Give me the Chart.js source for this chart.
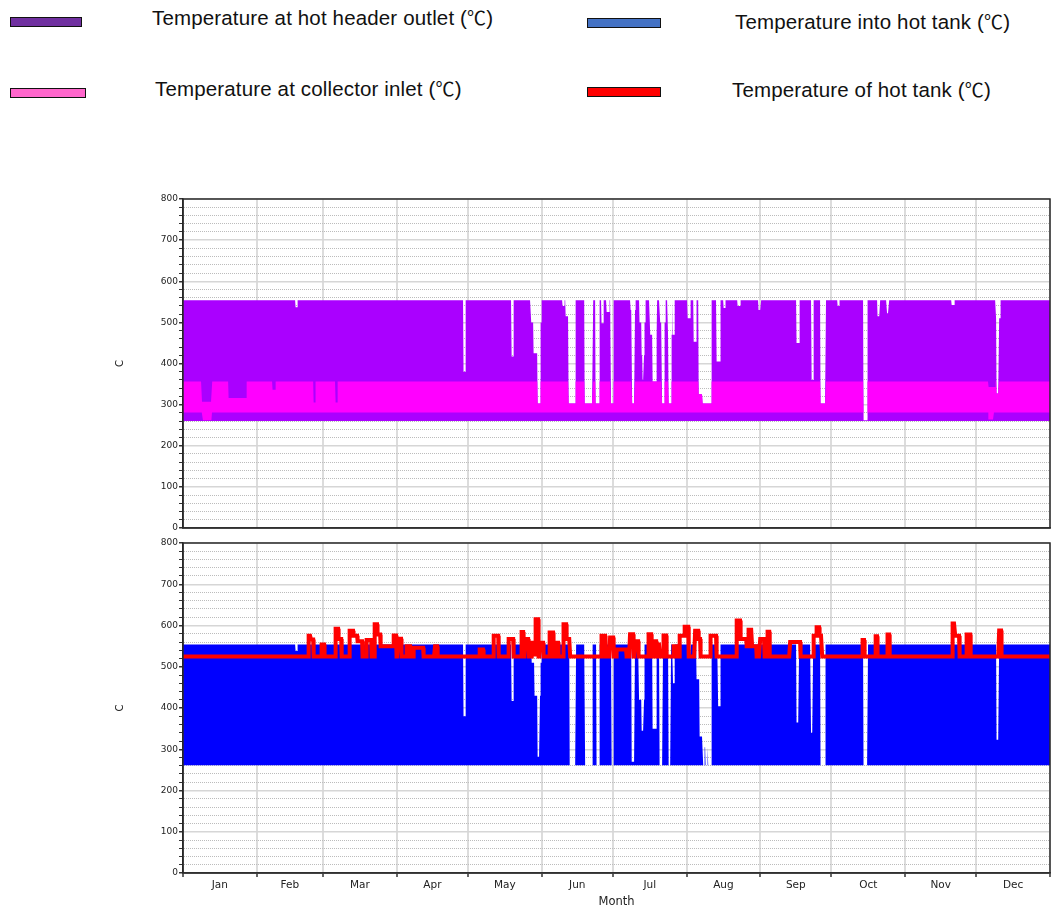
<!DOCTYPE html>
<html>
<head>
<meta charset="utf-8">
<script src="https://cdn.jsdelivr.net/npm/chart.js@4.4.1/dist/chart.umd.min.js"></script>
<style>
  html, body { margin: 0; padding: 0; background: #fff; }
  #page { position: relative; width: 1052px; height: 910px; overflow: hidden; font-family: "Liberation Sans", Arial, sans-serif; }
  .swatch { position: absolute; height: 8px; border: 1.5px solid #111; }
  .label { position: absolute; font-size: 20.5px; line-height: 20px; letter-spacing: 0.15px; color: #111; white-space: nowrap; }
  .deg { font-family: "Noto Sans CJK SC", "Noto Sans", sans-serif; font-size: 19px; }
  .panel { position: absolute; left: 0; width: 1052px; }
</style>
</head>
<body>
<div id="page">
  <div class="swatch" style="left:10px;top:17px;width:70px;background:#7030A0"></div>
  <span class="label" style="left:152px;top:7px">Temperature at hot header outlet (<span class="deg">℃</span>)</span>
  <div class="swatch" style="left:10px;top:88px;width:74px;background:#FF66CC"></div>
  <span class="label" style="left:155px;top:78px">Temperature at collector inlet (<span class="deg">℃</span>)</span>
  <div class="swatch" style="left:587px;top:18px;width:72px;background:#4472C4"></div>
  <span class="label" style="left:735px;top:11px">Temperature into hot tank (<span class="deg">℃</span>)</span>
  <div class="swatch" style="left:587px;top:87px;width:72px;background:#FF0000"></div>
  <span class="label" style="left:732px;top:79px">Temperature of hot tank (<span class="deg">℃</span>)</span>

  <div class="panel" style="top:185px;height:350px"><canvas id="topPanel"></canvas></div>
  <div class="panel" style="top:535px;height:375px"><canvas id="bottomPanel"></canvas></div>
</div>
<script>
// x is day of year (0..365), y is temperature
const monthNames = ["Jan", "Feb", "Mar", "Apr", "May", "Jun", "Jul", "Aug", "Sep", "Oct", "Nov", "Dec"];
const monthStarts = [0, 31, 59, 90, 120, 151, 181, 212, 243, 273, 304, 334, 365];

// hot header outlet: daily swing between the floor and the top, with dips [fromDay, toDay, lowest top]
const outletTop = 554;
const outletFloor = 260;
const outletDips = [
  [47.4, 48.0, 537], [118.2, 119.0, 380], [138.4, 139.0, 417],
  [146.6, 151.0, 500], [147.6, 150.4, 425], [149.3, 150.4, 303],
  [159.8, 160.4, 540], [161.0, 162.5, 515], [162.4, 165.2, 303],
  [169.1, 172.6, 303], [173.8, 175.4, 303], [176.1, 177.0, 498],
  [178.2, 179.5, 525], [180.2, 181.2, 303],
  [188.3, 190.4, 530], [189.1, 190.2, 303],
  [192.1, 194.6, 500], [193.0, 194.3, 420], [193.4, 194.0, 360],
  [196.7, 199.5, 470], [197.8, 199.2, 356],
  [200.9, 203.0, 500], [201.7, 202.6, 303],
  [204.2, 206.1, 470], [204.6, 205.6, 303], [206.3, 207.0, 470],
  [212.6, 213.6, 510], [215.0, 216.0, 453],
  [217.2, 218.6, 325], [218.6, 222.6, 303],
  [224.8, 226.2, 405], [227.6, 228.3, 535], [233.6, 234.6, 540],
  [242.3, 243.3, 530], [258.3, 259.5, 450], [264.5, 265.3, 360],
  [268.3, 270.6, 303], [275.5, 276.3, 540], [286.4, 288.2, 262],
  [292.5, 293.4, 515], [296.4, 297.2, 522], [323.6, 324.6, 542],
  [342.3, 344.2, 510], [342.6, 343.5, 327]
];

// collector inlet: band between a low and a high edge
const inletHigh = 356;
const inletHighDips = [
  [8.0, 12.2, 307], [19.2, 26.8, 316], [37.6, 38.8, 336],
  [55.0, 55.8, 305], [64.2, 65.0, 305], [339.0, 342.0, 343]
];
const inletLow = 281;
const inletLowDips = [
  [8.0, 12.0, 262], [286.4, 288.2, 262], [339.0, 341.0, 264]
];

// into hot tank
const intoTankTop = 554;
const intoTankFloor = 261;
const intoTankDips = [
  [47.4, 48.0, 538], [118.2, 119.0, 380], [138.4, 139.0, 417],
  [146.8, 151.0, 510], [148.0, 150.4, 430], [149.4, 150.2, 282],
  [162.8, 165.4, 261], [169.3, 172.3, 261], [174.1, 175.3, 261],
  [180.4, 181.1, 261], [188.9, 190.2, 270],
  [192.0, 194.3, 420], [193.2, 194.0, 345], [197.8, 199.4, 350],
  [200.8, 202.0, 261], [204.3, 205.4, 261], [206.3, 207.0, 460],
  [212.8, 213.8, 530], [216.2, 217.3, 470],
  [217.6, 219.0, 331], [219.0, 219.4, 261], [219.4, 219.9, 305],
  [219.9, 220.7, 261], [220.7, 221.1, 305], [221.1, 222.6, 261],
  [225.3, 226.3, 404], [258.3, 259.3, 365], [264.4, 265.2, 340],
  [268.3, 270.5, 261], [286.5, 288.3, 261], [342.5, 343.5, 323]
];

// hot tank: steady level with peaks [fromDay, toDay, peak]
const tankLevel = 525;
const tankPeaks = [
  [52.8, 53.8, 575], [53.8, 54.9, 566], [58.4, 59.5, 554],
  [64.4, 65.3, 592], [65.3, 66.8, 567], [70.3, 71.7, 587],
  [71.7, 73.5, 575], [73.5, 75.6, 562], [77.3, 79.4, 565],
  [80.8, 81.8, 603], [81.8, 83.0, 578], [83.0, 88.6, 550],
  [88.6, 89.7, 576], [90.6, 92.0, 568], [94.2, 95.6, 550],
  [97.0, 101.2, 546], [106.1, 107.1, 550], [125.0, 126.4, 542],
  [130.7, 132.8, 575], [137.0, 139.0, 567], [142.6, 143.3, 584],
  [144.0, 145.4, 567], [146.8, 148.2, 558], [148.6, 149.6, 615],
  [150.3, 151.7, 558], [154.5, 155.9, 583], [156.6, 158.0, 558],
  [160.1, 161.5, 603], [161.5, 162.9, 567], [176.3, 177.7, 575],
  [179.8, 181.2, 571], [182.6, 186.8, 542], [188.2, 189.6, 579],
  [190.3, 191.7, 562], [195.9, 197.3, 579], [198.0, 199.4, 562],
  [200.1, 200.8, 554], [202.2, 203.6, 576], [206.4, 207.8, 550],
  [209.2, 211.3, 575], [211.3, 212.8, 597], [215.6, 217.0, 587],
  [217.0, 217.7, 567], [222.2, 224.7, 575], [233.1, 234.5, 612],
  [234.5, 237.3, 567], [237.3, 241.5, 550], [238.0, 239.5, 590],
  [243.0, 244.6, 567], [246.0, 246.8, 585], [255.6, 260.0, 560],
  [265.6, 266.8, 575], [266.8, 268.0, 596], [268.0, 269.0, 575],
  [286.0, 286.8, 565], [291.6, 292.4, 574], [296.6, 297.4, 578],
  [324.0, 325.0, 605], [325.0, 327.0, 575], [330.0, 331.5, 578],
  [343.6, 344.4, 588]
];

const days = Array.from({ length: 3651 }, (_, i) => i / 10);

function sampleSeries(base, events, pick) {
  return days.map((x) => {
    let y = base;
    for (const [from, to, v] of events) {
      if (x >= from - 1e-6 && x <= to + 1e-6) y = pick(y, v);
    }
    return y;
  });
}
const toPoints = (ys) => ys.map((y, i) => ({ x: days[i], y }));

const outletVals = sampleSeries(outletTop, outletDips, Math.min);
const inletHighVals = sampleSeries(inletHigh, inletHighDips, Math.min).map((y, i) => Math.min(y, outletVals[i]));
const inletLowVals = sampleSeries(inletLow, inletLowDips, Math.min).map((y, i) => Math.min(y, inletHighVals[i]));
const intoTankVals = sampleSeries(intoTankTop, intoTankDips, Math.min);
const tankVals = sampleSeries(tankLevel, tankPeaks, Math.max);

// axis ticks
const monthMids = monthNames.map((_, i) => (monthStarts[i] + monthStarts[i + 1]) / 2);
const xTickValues = [...monthStarts, ...monthMids].sort((a, b) => a - b);
const yTickValues = Array.from({ length: 41 }, (_, i) => i * 20);
const isMonthStart = (v) => monthStarts.includes(v);

function dotted(color) {
  const c = document.createElement("canvas");
  c.width = 2; c.height = 2;
  const g = c.getContext("2d");
  g.fillStyle = color;
  g.fillRect(0, 0, 1, 2);
  return g.createPattern(c, "repeat");
}
const minorGrid = dotted("#bcbcbc");

const framePlugin = {
  id: "frame",
  afterDatasetsDraw(chart) {
    const { ctx, chartArea: a } = chart;
    ctx.save();
    ctx.strokeStyle = "#2a2a2a";
    ctx.lineWidth = 1.5;
    ctx.strokeRect(a.left, a.top, a.right - a.left, a.bottom - a.top);
    ctx.restore();
  }
};

function panelOptions(showMonths, padTop, xHeight) {
  return {
    responsive: true,
    maintainAspectRatio: false,
    animation: false,
    parsing: false,
    normalized: true,
    events: [],
    layout: { padding: { left: 110, right: 2, top: padTop, bottom: 0 } },
    elements: { point: { radius: 0 }, line: { tension: 0 } },
    plugins: { legend: { display: false }, tooltip: { enabled: false } },
    scales: {
      x: {
        type: "linear",
        min: 0,
        max: 365,
        afterBuildTicks: (s) => { s.ticks = xTickValues.map((value) => ({ value })); },
        afterFit: (s) => { s.height = xHeight; },
        ticks: {
          display: showMonths,
          autoSkip: false,
          maxRotation: 0,
          padding: 2,
          color: "#222",
          font: { family: "DejaVu Sans", size: 10.5 },
          callback: (v) => {
            const i = monthMids.indexOf(v);
            return i >= 0 ? monthNames[i] : "";
          }
        },
        grid: {
          color: (ctx) => (ctx.tick && isMonthStart(ctx.tick.value) ? "#dcdcdc" : "rgba(0,0,0,0)"),
          lineWidth: 2,
          drawTicks: showMonths,
          tickLength: 4,
          tickWidth: 1.5,
          tickColor: (ctx) => (ctx.tick && isMonthStart(ctx.tick.value) ? "#333" : "rgba(0,0,0,0)")
        },
        border: { color: "#444", width: 1.5 },
        title: {
          display: showMonths,
          text: "Month",
          color: "#222",
          font: { family: "DejaVu Sans", size: 11.5 },
          padding: { top: 2, bottom: 1 }
        }
      },
      y: {
        min: 0,
        max: 800,
        afterBuildTicks: (s) => { s.ticks = yTickValues.map((value) => ({ value })); },
        afterFit: (s) => { s.width = 73; },
        ticks: {
          autoSkip: false,
          padding: 1,
          color: "#222",
          font: { family: "DejaVu Sans", size: 9 },
          callback: (v) => (v % 100 === 0 ? String(v) : "")
        },
        grid: {
          color: (ctx) => (ctx.tick && ctx.tick.value % 100 === 0 ? "#d6d6d6" : minorGrid),
          lineWidth: (ctx) => (ctx.tick && ctx.tick.value % 100 === 0 ? 1.5 : 1),
          tickLength: 4,
          tickColor: "#333"
        },
        border: { color: "#222", width: 1.5 },
        title: {
          display: true,
          text: "C",
          color: "#222",
          font: { family: "DejaVu Sans", size: 10 },
          padding: 4
        }
      }
    }
  };
}

new Chart(document.getElementById("topPanel"), {
  type: "line",
  data: {
    datasets: [
      {
        label: "Temperature at collector inlet (℃)",
        data: toPoints(inletHighVals),
        borderWidth: 0,
        backgroundColor: "#FF00FF",
        fill: "+1",
        order: 1
      },
      {
        label: "collector inlet low",
        data: toPoints(inletLowVals),
        borderWidth: 0,
        fill: false,
        order: 1
      },
      {
        label: "Temperature at hot header outlet (℃)",
        data: toPoints(outletVals),
        borderWidth: 0,
        backgroundColor: "#AA00FF",
        fill: { value: outletFloor },
        order: 2
      }
    ]
  },
  options: panelOptions(false, 14, 7),
  plugins: [framePlugin]
});

new Chart(document.getElementById("bottomPanel"), {
  type: "line",
  data: {
    datasets: [
      {
        label: "Temperature of hot tank (℃)",
        data: toPoints(tankVals),
        borderWidth: 4,
        borderColor: "#FF0000",
        fill: false,
        order: 1
      },
      {
        label: "Temperature into hot tank (℃)",
        data: toPoints(intoTankVals),
        borderWidth: 0,
        backgroundColor: "#0000FF",
        fill: { value: intoTankFloor },
        order: 2
      }
    ]
  },
  options: panelOptions(true, 8, 37),
  plugins: [framePlugin]
});
</script>
</body>
</html>
